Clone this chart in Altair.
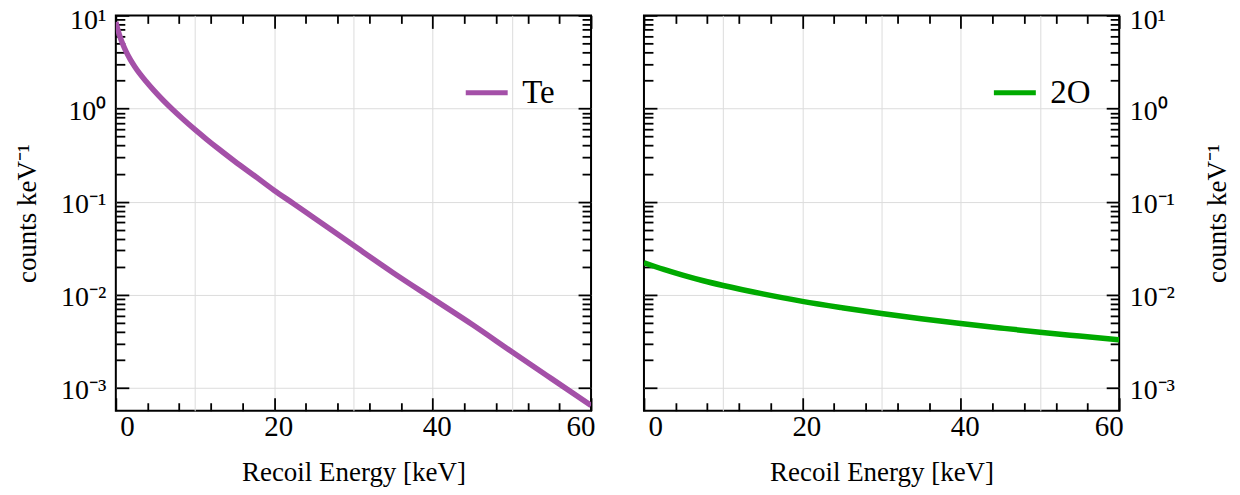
import altair as alt
import pandas as pd

# ---------------- data ----------------
te_energy = [0, 0.15, 0.3, 0.6, 0.9, 1.3, 1.8, 2.4, 3.0, 3.8, 4.8, 6.0, 7.2, 8.5,
             10, 11.5, 13, 15, 17.5, 20, 22.5, 25, 30, 35, 40, 45, 50, 55, 60]
te_counts = [8.49, 7.56, 6.80, 5.67, 4.86, 4.08, 3.39, 2.81, 2.38, 1.96, 1.565,
             1.22, 0.970, 0.767, 0.593, 0.465, 0.368, 0.272, 0.190, 0.132,
             0.0946, 0.0673, 0.0340, 0.0173, 0.0091, 0.0048, 0.00245, 0.00126,
             0.00065]

o_energy = [0, 2.5, 5, 7.5, 10, 15, 20, 25, 30, 35, 40, 45, 50, 55, 60]
o_counts = [0.02213, 0.01875, 0.01618, 0.01416, 0.01259, 0.01023, 0.00851,
            0.00728, 0.00631, 0.00555, 0.00492, 0.00441, 0.00397, 0.00361,
            0.00329]

series_names = ["Te", "2O"]
series_colors = ["#a450a8", "#00aa00"]

x_domain = [0, 60]
y_domain = [0.00057, 10]
x_label_values = [0, 20, 40, 60]
x_grid_values = [10, 20, 30, 40, 50]
x_minor_values = [4, 8, 12, 16, 24, 28, 32, 36, 44, 48, 52, 56]
y_major_values = [0.001, 0.01, 0.1, 1, 10]
y_grid_values = [0.001, 0.01, 0.1, 1]
y_minor_values = [m * d for d in [0.001, 0.01, 0.1, 1] for m in range(2, 10)]
y_tick_labels = ["10⁻³", "10⁻²", "10⁻¹", "10⁰", "10¹"]

x_title = "Recoil Energy [keV]"
y_title = "counts keV⁻¹"

FONT = "Liberation Serif"
W, H = 476, 396

label_expr = "[" + ",".join("'%s'" % s for s in y_tick_labels) + "][round(log(datum.value)/LN10)+3]"


def make_panel(energy, counts, name, color, side):
    df = pd.DataFrame({"energy": energy, "counts": counts, "series": [name] * len(energy)})
    base = alt.Chart(df)
    xs = alt.Scale(domain=x_domain, nice=False, zero=False)
    ys = alt.Scale(type="log", domain=y_domain, nice=False)

    def ghost(xaxis, yaxis):
        return base.mark_line(opacity=0).encode(
            x=alt.X("energy:Q", scale=xs, axis=xaxis),
            y=alt.Y("counts:Q", scale=ys, axis=yaxis),
        )

    def tick_axis(orient, values, size):
        return alt.Axis(orient=orient, values=values, ticks=True, tickSize=size,
                        tickWidth=1.8, tickColor="black", offset=-size,
                        labels=False, domain=False, grid=False, title=None)

    grid = ghost(
        alt.Axis(orient="bottom", values=x_grid_values, grid=True, gridColor="#dcdcdc",
                 gridWidth=1, labels=False, ticks=False, domain=False, title=None),
        alt.Axis(orient=side, values=y_grid_values, grid=True, gridColor="#dcdcdc",
                 gridWidth=1, labels=False, ticks=False, domain=False, title=None),
    )
    major_a = ghost(tick_axis("bottom", x_label_values, 13), tick_axis("left", y_major_values, 13))
    minor_a = ghost(tick_axis("bottom", x_minor_values, 8), tick_axis("left", y_minor_values, 9))
    major_b = ghost(tick_axis("top", x_label_values, 13), tick_axis("right", y_major_values, 13))
    minor_b = ghost(tick_axis("top", x_minor_values, 8), tick_axis("right", y_minor_values, 9))

    line = base.mark_line(strokeWidth=5.5, clip=True, interpolate="monotone").encode(
        x=alt.X("energy:Q", scale=xs,
                axis=alt.Axis(orient="bottom", values=x_label_values, title=x_title,
                              ticks=False, tickSize=0, domain=False, grid=False,
                              labelPadding=2, labelOffset=4, labelFontSize=29,
                              labelFont=FONT, labelColor="black",
                              titleFont=FONT, titleFontSize=27, titleFontWeight="normal",
                              titleColor="black", titlePadding=18)),
        y=alt.Y("counts:Q", scale=ys,
                axis=alt.Axis(orient=side, values=y_major_values, labelExpr=label_expr,
                              title=y_title, ticks=False, tickSize=0, domain=False,
                              grid=False, labelPadding=10, labelBaseline="middle",
                              labelOffset={"condition": {"test": "datum.value >= 10", "value": 5.5},
                                           "value": 2.5},
                              labelFontSize=28, labelFont=FONT,
                              labelColor="black", titleFont=FONT, titleFontSize=27,
                              titleFontWeight="normal", titleColor="black",
                              titlePadding=19 if side == "left" else 30, titleAngle=270,
                              titleBaseline="bottom" if side == "left" else "top")),
        color=alt.Color("series:N", scale=alt.Scale(domain=[name], range=[color]),
                        legend=alt.Legend(orient="none", legendX=348, legendY=54,
                                          title=None, symbolType="stroke",
                                          symbolSize=1764, symbolStrokeWidth=5,
                                          labelFontSize=33, labelFont=FONT,
                                          labelColor="black", labelOffset=12,
                                          padding=0)),
    )

    return alt.layer(grid, major_a, minor_a, major_b, minor_b, line).resolve_axis(
        x="independent", y="independent"
    ).properties(width=W, height=H)


left = make_panel(te_energy, te_counts, series_names[0], series_colors[0], "left")
right = make_panel(o_energy, o_counts, series_names[1], series_colors[1], "right")

chart = alt.hconcat(left, right, spacing=46).resolve_scale(color="independent").properties(
    padding={"left": 4, "top": -3, "right": 0, "bottom": 2},
    background="white",
).configure_view(stroke="black", strokeWidth=2)

chart.save("out.html", embed_options={"renderer": "svg", "actions": False})
